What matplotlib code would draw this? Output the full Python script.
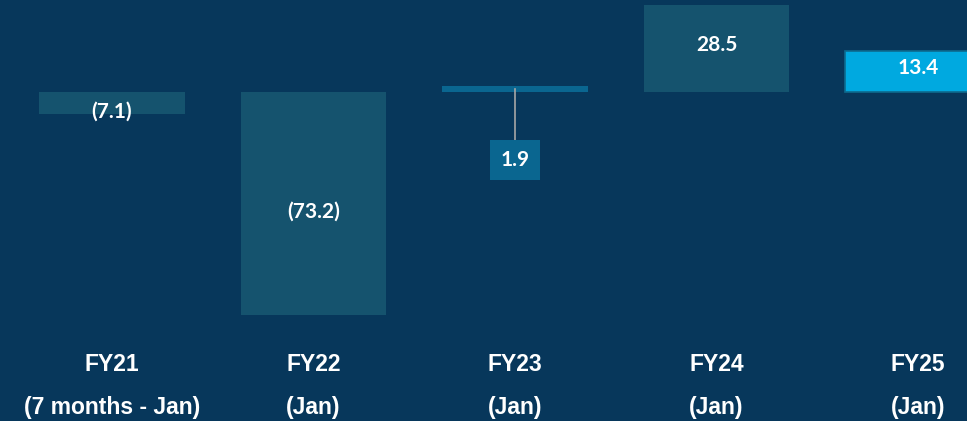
import matplotlib
matplotlib.use("Agg")
from matplotlib import pyplot as plt

# Net change per fiscal year
years = ["FY21", "FY22", "FY23", "FY24", "FY25"]
periods = ["(7 months - Jan)", "(Jan)", "(Jan)", "(Jan)", "(Jan)"]
values = [-7.1, -73.2, 1.9, 28.5, 13.4]
labels = ["(7.1)", "(73.2)", "1.9", "28.5", "13.4"]

bg = "#07375b"
bar_colors = ["#15536e", "#15536e", "#0a6690", "#15536e", "#00a9e0"]


def main():
    fig = plt.figure(figsize=(9.67, 4.21), dpi=100)
    fig.patch.set_facecolor(bg)
    ax = fig.add_axes([0, 0, 1, 1])
    ax.set_facecolor(bg)

    # 1 unit on x = 201.5 px, 1 unit on y = 3.05 px, baseline 92 px from top
    ax.set_xlim(-112 / 201.5, (967 - 112) / 201.5)
    ax.set_ylim(-329 / 3.05, 92 / 3.05)
    ax.axis("off")

    x = list(range(len(values)))
    for i, v in enumerate(values):
        edge = "#0e6a8e" if i == 4 else bar_colors[i]
        ax.bar(i, v, width=0.72, color=bar_colors[i], edgecolor=edge,
               linewidth=1.2 if i == 4 else 0)

    font_val = dict(color="white", fontsize=15, fontweight="bold",
                    family=["Lato", "DejaVu Sans"], ha="center", va="center")

    # value labels
    ax.text(x[0], values[0] + 0.5, labels[0], **font_val)
    ax.text(x[1], values[1] / 2 - 2.7, labels[1], **font_val)
    ax.text(x[3], values[3] / 2 + 1.2, labels[3], **font_val)
    ax.text(x[4], values[4] / 2 + 1.2, labels[4], **font_val)

    # FY23 is too small to hold its label: call-out box below with a leader line
    ax.plot([x[2], x[2]], [values[2] / 2, -15.7], color="#a6a6a6", linewidth=1.2)
    ax.text(x[2], -22.3, labels[2], color="white", fontsize=15,
            fontweight="bold", family=["Lato", "DejaVu Sans"],
            ha="center", va="center",
            bbox=dict(boxstyle="square,pad=0.5", facecolor="#0a6690",
                      edgecolor="none"))

    # category labels
    for i in x:
        ax.text(i, -89.5, years[i], color="white", fontsize=16.5,
                fontweight="bold", family="Liberation Sans",
                ha="center", va="center")
        ax.text(i, -103.4, periods[i], color="white", fontsize=16.5,
                fontweight="bold", family="Liberation Sans",
                ha="center", va="center")

    plt.savefig("out.png", dpi=100, facecolor=bg)


if __name__ == "__main__":
    main()
